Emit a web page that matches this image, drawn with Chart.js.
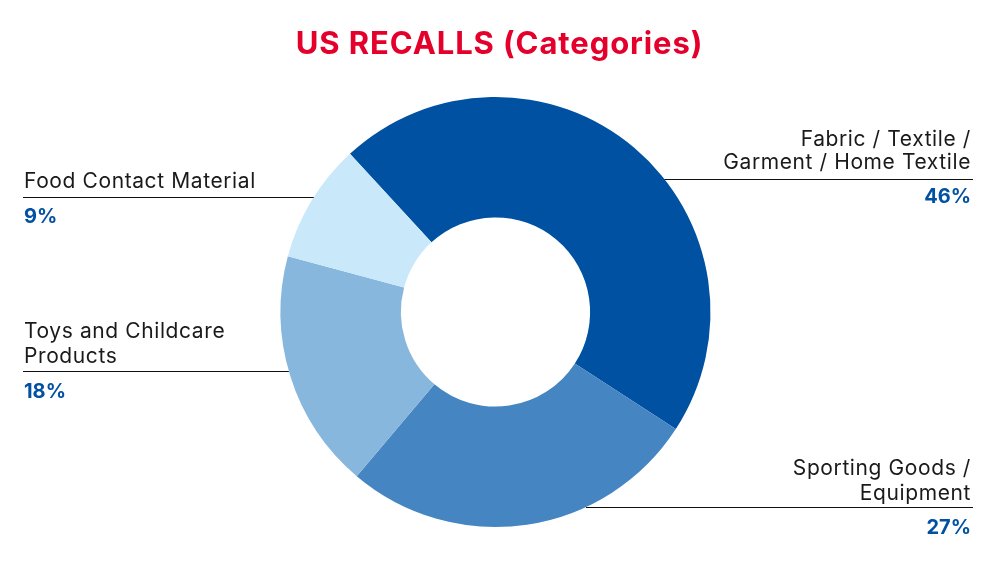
<!DOCTYPE html>
<html lang="en">
<head>
<meta charset="UTF-8">
<title>US RECALLS (Categories)</title>
<script src="https://cdn.jsdelivr.net/npm/chart.js"></script>
<style>
    html, body { margin: 0; padding: 0; background: #fff; }
    .chart-container { position: relative; width: 1000px; height: 567px; }
</style>
</head>
<body>
<div class="chart-container"><canvas id="recallChart"></canvas></div>
<script>
const categories = [
    ['Fabric / Textile /', 'Garment / Home Textile'],
    ['Sporting Goods /', 'Equipment'],
    ['Toys and Childcare', 'Products'],
    ['Food Contact Material']
];
const shares = [46, 27, 18, 9];
const sliceColors = ['#0051a2', '#4485c2', '#88b7dd', '#c9e9fb'];
const chartTitle = 'US RECALLS (Categories)';

const textFont = 'Inter, "Open Sans", sans-serif';

// leader lines and labels, anchored on each slice's outer edge
const calloutPlugin = {
    id: 'callouts',
    afterDatasetsDraw(chart) {
        const ctx = chart.ctx;
        const arcs = chart.getDatasetMeta(0).data;
        // deg = clockwise from 12 o'clock on the ring, where the line leaves it
        const spots = [
            { deg: 51.8, side: 'right', edge: 971, lineEnd: 973, textUp: 10, gap: 23, pctDown: 24 },
            { deg: 155.1, side: 'right', edge: 971, lineEnd: 973, textUp: 7, gap: 25, pctDown: 27 },
            { deg: 254, side: 'left', edge: 24, lineEnd: 23, textUp: 8, gap: 25, pctDown: 27 },
            { deg: 302.3, side: 'left', edge: 24, lineEnd: 23, textUp: 9, gap: 25, pctDown: 26 }
        ];
        arcs.forEach((arc, i) => {
            const spot = spots[i];
            const rad = (spot.deg - 90) * Math.PI / 180;
            const r = arc.outerRadius;
            const x = arc.x + Math.cos(rad) * r;
            const y = Math.round(arc.y + Math.sin(rad) * r);
            ctx.save();
            ctx.strokeStyle = '#111';
            ctx.lineWidth = 1;
            ctx.beginPath();
            ctx.moveTo(x, y + 0.5);
            ctx.lineTo(spot.lineEnd, y + 0.5);
            ctx.stroke();
            ctx.textAlign = spot.side;
            ctx.textBaseline = 'alphabetic';
            ctx.fillStyle = '#1a1a1a';
            ctx.font = '21px ' + textFont;
            ctx.letterSpacing = '0.6px';
            const lines = categories[i];
            lines.forEach((line, n) => {
                ctx.fillText(line, spot.edge, y - spot.textUp - (lines.length - 1 - n) * spot.gap);
            });
            ctx.fillStyle = '#0051a2';
            ctx.font = 'bold 20px ' + textFont;
            ctx.letterSpacing = '0px';
            ctx.fillText(shares[i] + '%', spot.edge, y + spot.pctDown);
            ctx.restore();
        });

        // title is centred on the page, the ring sits a little left of it
        ctx.save();
        ctx.textAlign = 'center';
        ctx.textBaseline = 'alphabetic';
        ctx.fillStyle = '#e4002b';
        ctx.font = 'bold 31px ' + textFont;
        ctx.letterSpacing = '0.9px';
        ctx.fillText(chartTitle, 499.5, 54);
        ctx.restore();
    }
};

new Chart(document.getElementById('recallChart'), {
    type: 'doughnut',
    data: {
        labels: categories,
        datasets: [{
            data: shares,
            backgroundColor: sliceColors,
            borderWidth: 0
        }]
    },
    options: {
        responsive: true,
        maintainAspectRatio: false,
        animation: false,
        cutout: '44%',
        rotation: -42.6,
        layout: { padding: { top: 97, bottom: 40, right: 9 } },
        plugins: {
            legend: { display: false },
            tooltip: { enabled: false },
            title: { display: false }
        }
    },
    plugins: [calloutPlugin]
});
</script>
</body>
</html>
